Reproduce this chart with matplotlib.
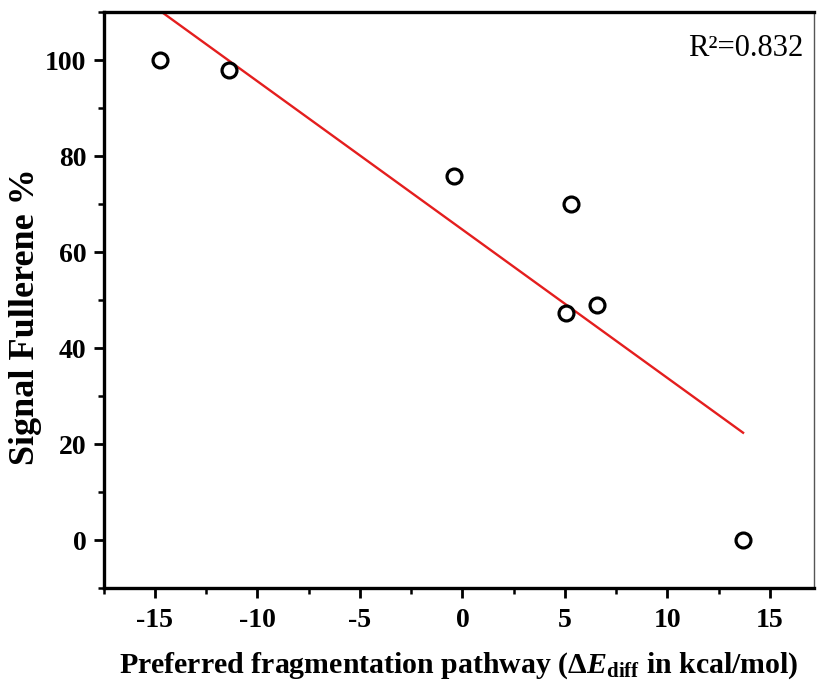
import numpy as np
import matplotlib
matplotlib.use("Agg")
import matplotlib.pyplot as plt
from matplotlib.ticker import MultipleLocator

x_vals = [-14.76, -11.38, -0.41, 5.31, 5.06, 6.56, 13.69]
y_vals = [100, 97.9, 75.9, 70.0, 47.4, 49.0, 0]
r2_text = "R²=0.832"

plt.rcParams['font.family'] = ['Liberation Serif', 'DejaVu Serif']
plt.rcParams['axes.unicode_minus'] = False
plt.rcParams['mathtext.fontset'] = 'custom'
plt.rcParams['mathtext.rm'] = 'Liberation Serif:bold'
plt.rcParams['mathtext.it'] = 'Liberation Serif:italic:bold'
plt.rcParams['mathtext.bf'] = 'Liberation Serif:bold'

fig = plt.figure(figsize=(8.17, 6.92), dpi=100)
L, R, T, B = 103.7, 814, 12, 588.3
ax = fig.add_axes([L/817, 1-B/692, (R-L)/817, (B-T)/692])

x = np.array(x_vals)
y = np.array(y_vals)
slope, intercept = np.polyfit(x, y, 1)
xl = np.array([x.min(), x.max()])
ax.plot(xl, slope*xl + intercept, color='#e41e1e', lw=1.7, zorder=2)
ax.scatter(x, y, s=115, facecolors='white', edgecolors='black', linewidths=2.3, zorder=3)

ax.set_xlim(-17.5, 17.15)
ax.set_ylim(-10, 110)
ax.xaxis.set_major_locator(MultipleLocator(5))
ax.xaxis.set_minor_locator(MultipleLocator(2.5))
ax.yaxis.set_major_locator(MultipleLocator(20))
ax.yaxis.set_minor_locator(MultipleLocator(10))
ax.tick_params(which='major', direction='out', length=7.5, width=2, labelsize=20, pad=5)
ax.tick_params(axis='x', which='major', pad=7)
ax.tick_params(which='minor', direction='out', length=4, width=1.8)
ax.tick_params(top=False, right=False, which='both')
for lab in ax.get_xticklabels() + ax.get_yticklabels():
    lab.set_fontweight('bold')

for s in ['left', 'bottom', 'top']:
    ax.spines[s].set_linewidth(2.4)
ax.spines['right'].set_linewidth(1.0)
ax.spines['right'].set_color('#555555')

ax.set_xlabel(r'Preferred fragmentation pathway ($\Delta\mathit{E}_{\mathrm{diff}}$ in kcal/mol)',
              fontsize=21.5, fontweight='bold', labelpad=12)
ax.set_ylabel('Signal Fullerene %', fontsize=26, fontweight='bold')
ax.yaxis.set_label_coords(-0.087, 0.472)

ax.text(0.9845, 0.962, r2_text, transform=ax.transAxes, ha='right', va='top', fontsize=22)

fig.savefig('out.png', dpi=100)
